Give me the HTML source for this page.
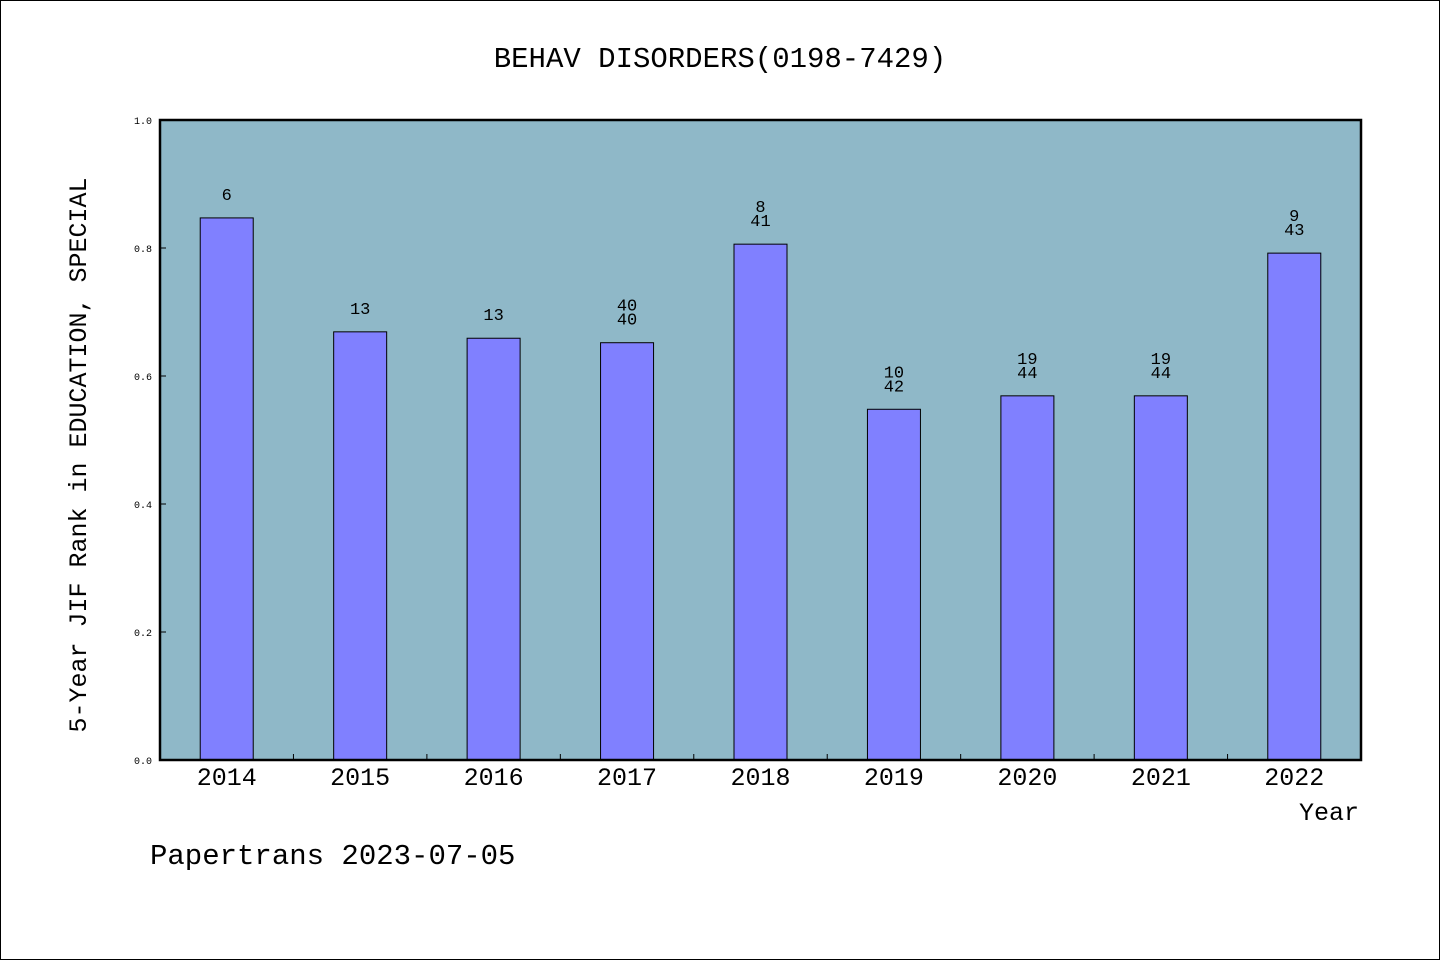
<!DOCTYPE html>
<html><head><meta charset="utf-8"><style>
html,body{margin:0;padding:0;background:#fff;}
svg{display:block;}
text{font-family:"WenQuanYi Zen Hei","Liberation Mono",monospace;fill:#000;}
</style></head><body>
<svg id="chart" width="1440" height="960" xmlns="http://www.w3.org/2000/svg">
<rect x="0.5" y="0.5" width="1439" height="959" fill="#fff" stroke="#000"/>
<text x="720" y="67" font-size="29" text-anchor="middle">BEHAV DISORDERS(0198-7429)</text>
<rect x="160" y="120" width="1201" height="640" fill="#8fb8c8"/>
<g id="bars"></g>
<rect x="160" y="120" width="1201" height="640" fill="none" stroke="#000" stroke-width="2.5"/>
<text transform="translate(86,455) rotate(-90)" font-size="25" text-anchor="middle">5-Year JIF Rank in EDUCATION, SPECIAL</text>
<text x="1359" y="820" font-size="25" text-anchor="end">Year</text>
<text x="150" y="864" font-size="29">Papertrans 2023-07-05</text>
</svg>
<script>
const categories=["2014","2015","2016","2017","2018","2019","2020","2021","2022"];
const values=[0.847,0.669,0.659,0.652,0.806,0.548,0.569,0.569,0.792];
const topLabels=["","","","40","8","10","19","19","9"];
const bottomLabels=["6","13","13","40","41","42","44","44","43"];
const yTicks=[0,0.2,0.4,0.6,0.8,1.0];
const yTickLabels=["0.0","0.2","0.4","0.6","0.8","1.0"];
const svg=document.getElementById('chart');
const g=document.getElementById('bars');
const NS="http://www.w3.org/2000/svg";
const x0=160,x1=1361,y0=760,y1=120;
const band=(x1-x0)/categories.length;
const xc=i=>x0+band*(i+0.5);
const ys=v=>y0-(v)*(y0-y1);
function mk(tag,attrs,parent){const e=document.createElementNS(NS,tag);for(const k in attrs)e.setAttribute(k,attrs[k]);(parent||svg).appendChild(e);return e;}
categories.forEach((c,i)=>{
  const bw=53,top=ys(values[i]);
  const r=mk('rect',{x:xc(i)-bw/2,y:top,width:bw,height:y0-top,fill:'#8080ff',stroke:'#000','stroke-width':1},g);
  
  
  const t=mk('text',{x:xc(i),y:top-18,'font-size':17,'text-anchor':'middle'},g);
  t.textContent=bottomLabels[i];
  
  
  if(topLabels[i]){
    const t2=mk('text',{x:xc(i),y:top-32,'font-size':17,'text-anchor':'middle'},g);
    t2.textContent=topLabels[i];
    
    
  }
  const xl=mk('text',{x:xc(i),y:785,'font-size':25,'text-anchor':'middle'});
  xl.textContent=c;
  
  
  if(i>0){
    const tk=mk('line',{x1:x0+band*i,x2:x0+band*i,y1:y0,y2:y0-6,stroke:'#000','stroke-width':1});
    
    
  }
});
yTicks.forEach((v,i)=>{
  const tk=mk('line',{x1:x0,x2:x0+6,y1:ys(v),y2:ys(v),stroke:'#000','stroke-width':1});
  
  
  const l=mk('text',{x:152,y:ys(v)+4,'font-size':10,'text-anchor':'end'});
  l.textContent=yTickLabels[i];
  
  
});
</script>
</body></html>
